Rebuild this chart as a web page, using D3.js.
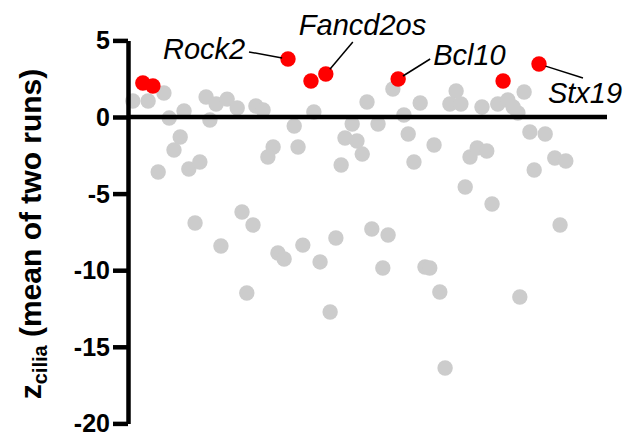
<!DOCTYPE html>
<html>
<head>
<meta charset="utf-8">
<script src="https://cdn.jsdelivr.net/npm/d3@7"></script>
<style>
  body { margin: 0; background: #fff; }
  svg { display: block; }
  text { font-family: "Liberation Sans", Arial, sans-serif; }
</style>
</head>
<body>
<div id="main"></div>
<script>
// screen position (gene order) and z score of the background genes
var grayX = [1.0, 4.2, 7.5, 8.6, 11.7, 10.9, 16.3, 18.4, 20.7, 22.8, 17.1, 26.7, 28.2, 34.7,
  55.3, 49.9, 38.8, 61.0, 68.5, 67.2, 69.5, 57.6, 46.8, 52.2, 58.5, 45.3, 47.8, 73.9, 77.2,
  79.3, 82.7, 80.4, 81.4, 83.9, 87.1, 9.6, 6.3, 12.7, 15.0, 30.3, 29.2, 35.5, 23.8, 26.1,
  14.0, 19.4, 31.3, 32.6, 24.8, 48.9, 44.5, 63.9, 59.7, 71.4, 70.4, 50.9, 54.3, 43.4, 36.5,
  40.1, 53.2, 62.0, 63.0, 65.1, 72.9, 74.9, 89.1, 91.4, 84.8, 76.0, 90.2, 42.2, 66.2, 81.8]
var grayZ = [1.04, 1.04, 1.57, -0.07, 0.39, -1.31, 1.31, 0.85, 1.17, 0.59, -0.20, 0.72, 0.46, -0.59,
  1.83, 0.98, 0.33, 0.91, 1.70, 0.85, 0.85, 0.13, -0.46, -0.46, -1.11, -1.37, -1.57, 0.65, 0.85,
  1.11, 1.63, 0.65, 0.26, -0.98, -1.11, -2.15, -3.59, -3.39, -2.94, -1.96, -2.61, -1.96, -6.20, -7.05,
  -6.92, -8.42, -8.88, -9.27, -11.49, -2.42, -3.13, -1.83, -2.94, -2.61, -4.57, -7.31, -7.70, -7.90, -8.36,
  -9.46, -9.86, -9.79, -9.86, -11.42, -2.02, -2.22, -2.68, -2.87, -3.46, -5.68, -7.05, -12.73, -16.38, -11.75]

// hits shown in red
var hitX = [3.1, 5.2, 33.4, 38.2, 41.3, 56.4, 78.3, 85.8]
var hitZ = [2.22, 2.02, 3.79, 2.35, 2.81, 2.48, 2.35, 3.46]
var hitName = ["", "", "Rock2", "", "Fancd2os", "Bcl10", "", "Stx19"]

var yTicks = [5, 0, -5, -10, -15, -20]

// where each label sits relative to its dot: text anchor point, line start
var labelPos = {
  "Rock2":    { tx: -125, ty: 0,   anchor: "start", lx: -39, ly: -7 },
  "Fancd2os": { tx: -27,  ty: -39, anchor: "start", lx: 27,  ly: -32 },
  "Bcl10":    { tx: 35,   ty: -14, anchor: "start", lx: 32,  ly: -20 },
  "Stx19":    { tx: 9,    ty: 39,  anchor: "start", lx: 44,  ly: 14 }
}

var width = 627, height = 435
var svg = d3.select("#main").append("svg").attr("width", width).attr("height", height)

var x = d3.scaleLinear().domain([0, 100]).range([128, 607])
var y = d3.scaleLinear().domain([-20, 5]).range([423.4, 40.4])

var gray = grayX.map((d, i) => ({ x: d, z: grayZ[i] }))
var hits = hitX.map((d, i) => ({ x: d, z: hitZ[i], name: hitName[i] }))

svg.append("g").selectAll("circle")
  .data(gray)
  .enter()
  .append("circle")
  .attr("cx", d => x(d.x))
  .attr("cy", d => y(d.z))
  .attr("r", 7.7)
  .attr("fill", "#cccccc")

// axes
var yAxis = svg.append("g")
  .attr("transform", `translate(${x(0)},0)`)
  .call(d3.axisLeft(y).tickValues(yTicks).tickSize(15).tickSizeOuter(0).tickPadding(3)
    .tickFormat(d => String(d)))
yAxis.select(".domain").attr("stroke", "#000").attr("stroke-width", 4.5)
yAxis.selectAll(".tick line").attr("stroke", "#000").attr("stroke-width", 4.5)
yAxis.selectAll(".tick text")
  .attr("fill", "#000")
  .style("font-size", "25px")
  .style("font-weight", "bold")
  .attr("dy", "0.34em")

svg.append("line")
  .attr("x1", x(0)).attr("x2", x(100))
  .attr("y1", y(0)).attr("y2", y(0))
  .attr("stroke", "#000")
  .attr("stroke-width", 4.5)

svg.append("g").selectAll("circle")
  .data(hits)
  .enter()
  .append("circle")
  .attr("cx", d => x(d.x))
  .attr("cy", d => y(d.z))
  .attr("r", 7.7)
  .attr("fill", "#ff0000")

// labels for named hits
var named = hits.filter(d => d.name !== "")
svg.append("g").selectAll("line")
  .data(named)
  .enter()
  .append("line")
  .attr("x1", d => x(d.x) + labelPos[d.name].lx)
  .attr("y1", d => y(d.z) + labelPos[d.name].ly)
  .attr("x2", d => x(d.x) + labelPos[d.name].lx * 0.15)
  .attr("y2", d => y(d.z) + labelPos[d.name].ly * 0.15)
  .attr("stroke", "#000")
  .attr("stroke-width", 1.5)

svg.append("g").selectAll("text")
  .data(named)
  .enter()
  .append("text")
  .attr("x", d => x(d.x) + labelPos[d.name].tx)
  .attr("y", d => y(d.z) + labelPos[d.name].ty)
  .attr("text-anchor", d => labelPos[d.name].anchor)
  .style("font-size", "29px")
  .style("font-style", "italic")
  .text(d => d.name)

// y axis title
var title = svg.append("text")
  .attr("transform", "translate(41,234) rotate(-90)")
  .attr("text-anchor", "middle")
  .style("font-size", "30px")
  .style("font-weight", "bold")
title.append("tspan").text("z")
title.append("tspan").attr("dy", 6).style("font-size", "20px").text("cilia")
title.append("tspan").attr("dy", -6).text(" (mean of two runs)")
</script>
</body>
</html>
